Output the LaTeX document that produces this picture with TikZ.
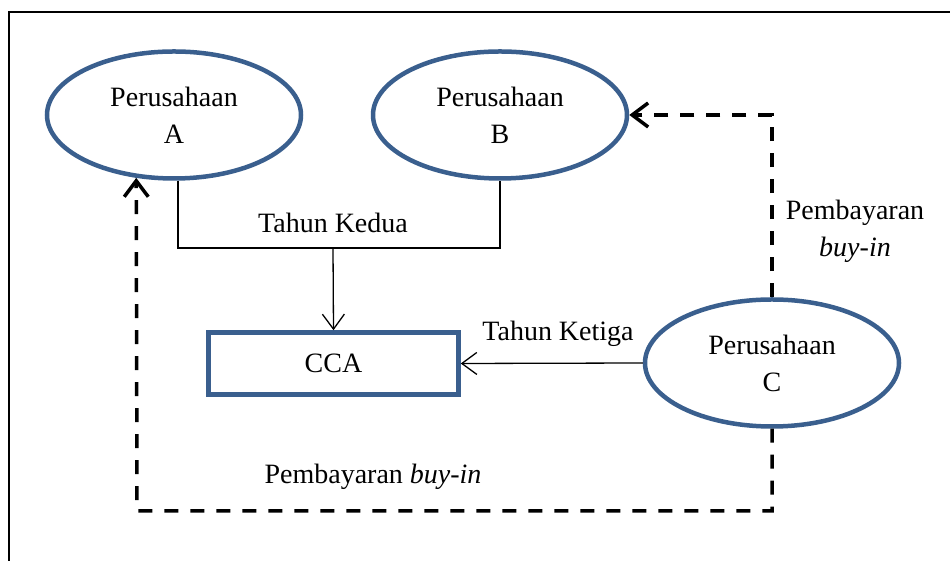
\documentclass[tikz,border=0pt]{standalone}
\usepackage{fontspec}
\setmainfont{Liberation Serif}
\usetikzlibrary{shapes.geometric,arrows.meta}
\definecolor{ovalblue}{HTML}{3A5F8E}
\tikzset{
  x=1pt, y=1pt,
  every node/.style = {font=\fontsize{28}{37}\selectfont},
  firm/.style = {ellipse, draw=ovalblue, line width=4.5pt, align=center, inner sep=0pt,
                 minimum width=254pt, minimum height=127pt},
  ccabox/.style = {rectangle, draw=ovalblue, line width=4.5pt, inner sep=0pt,
                   minimum width=250pt, minimum height=62pt},
  flow/.style = {line width=1.3pt, -{Straight Barb[length=15pt,width=22pt]}},
  payment/.style = {line width=3.5pt, dash pattern=on 14pt off 12pt,
                    -{Straight Barb[length=16pt,width=24pt]}}
}
\begin{document}
\begin{tikzpicture}
\useasboundingbox (0,0) rectangle (950,561);
% frame
\draw[line width=1.5pt] (9,0) -- (9,549) -- (952,549);

\node [firm] (A) at (174,446) {Perusahaan\\A};
\node [firm] (B) at (500,446) {Perusahaan\\B};
\node [firm] (C) at (772,198) {Perusahaan\\C};
\node [ccabox] (cca) at (333.5,197.5) {CCA};

% second year
\coordinate (kedua) at (333,313);
\draw[line width=1.3pt] ([xshift=4pt]A.south) |- (kedua) -| (B.south);
\draw[flow] (kedua) -- (cca.north);
\node (lblKedua) at (333,338) {Tahun Kedua};

% third year
\draw[flow] (C.west) -- (cca.east);
\node (lblKetiga) at (558,227) {Tahun Ketiga};

% buy-in payments
\draw[payment] (C.north) |- (B.east);
\node [align=center] (lblBayarB) at (855,329.5) {Pembayaran\\\textit{buy-in}};
\coordinate (bawah) at (137,50);
\draw[payment] (C.south) |- (bawah) -- (A.239);
\node (lblBayarA) at (373,84) {Pembayaran \textit{buy-in}};
\end{tikzpicture}
\end{document}
